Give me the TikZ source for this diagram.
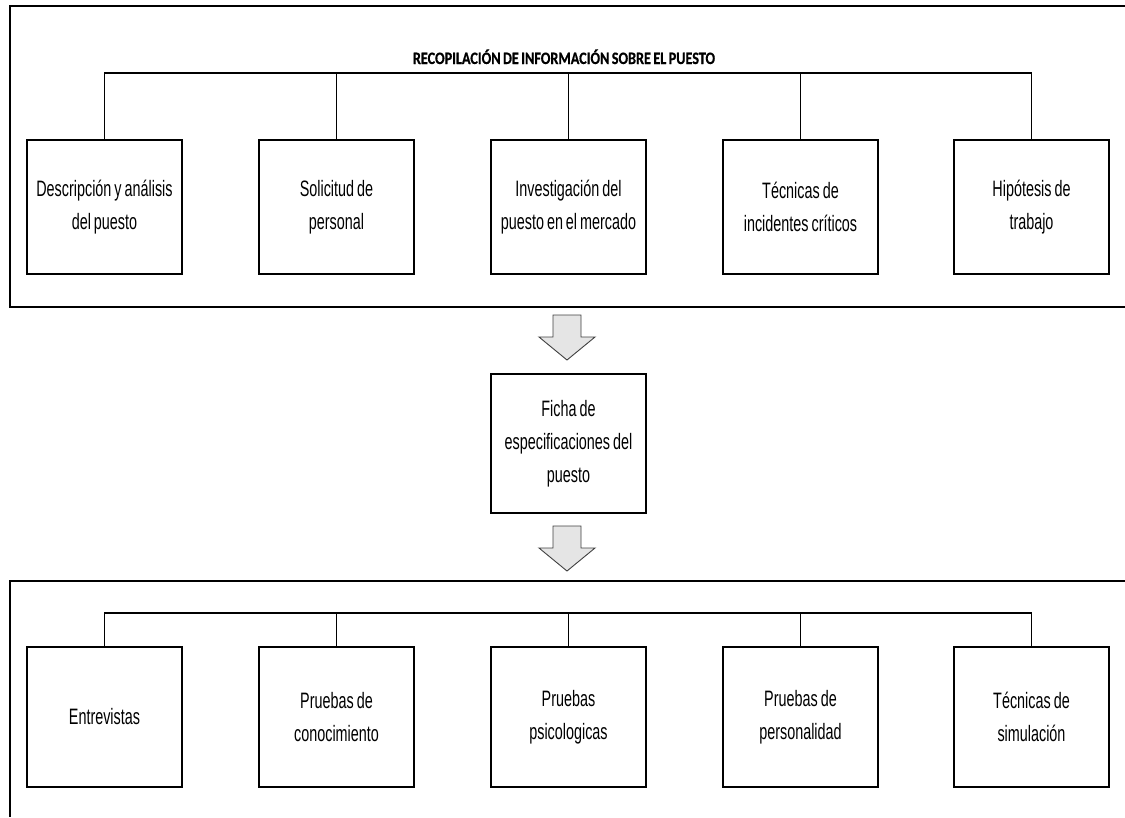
\documentclass[tikz,border=0pt]{standalone}
\usepackage{fontspec}
\newfontfamily\boxfont{Liberation Sans}[FakeStretch=0.645,WordSpace={0.75,0,0}]
\newfontfamily\titlefont{Carlito}[FakeStretch=0.815,FakeBold=0.6,WordSpace={0.75,0,0},UprightFont=*-Bold]
\begin{document}
\begin{tikzpicture}[x=1pt,y=-1pt,
  framel/.style={line width=2pt,draw=black},
  conn/.style={line width=1.3pt,draw=black},
  itembox/.style={draw=black,line width=1.6pt,minimum width=155pt,minimum height=134pt,
    inner sep=0pt,align=center,
    font=\boxfont\fontsize{22.3}{33}\selectfont},
  arrowshape/.style={fill=black!10,draw=black!75,line width=0.9pt,line join=miter},
  ttl/.style={font=\titlefont\fontsize{17.4}{20}\selectfont,inner sep=0pt,anchor=base}]
\useasboundingbox (0,0) rectangle (1125,817);
% frames
\draw[framel] (1125,6) -- (10,6) -- (10,307) -- (1125,307);
\draw[framel] (1125,581) -- (10,581) -- (10,817);
% title
\node[ttl] (title) at (564,64) {RECOPILACIÓN DE INFORMACIÓN SOBRE EL PUESTO};
% top boxes
\node[itembox] (t1) at (104.5,207) {Descripción y análisis\\del puesto};
\node[itembox] (t2) at (336.5,207) {Solicitud de\\personal};
\node[itembox] (t3) at (568.5,207) {Investigación del\\puesto en el mercado};
\node[itembox] (t4) at (800.5,207) {Técnicas de\\incidentes críticos};
\node[itembox] (t5) at (1031.5,207) {Hipótesis de\\trabajo};
\coordinate (bt) at (568.5,73);
\draw[conn] (t1.north) |- (bt) -| (t5.north);
\draw[conn] (bt) -- (t3.north);
\draw[conn] (t2.north) -- (t2.north |- bt);
\draw[conn] (t4.north) -- (t4.north |- bt);
% arrow 1
\draw[arrowshape] (553,315) -- (581,315) -- (581,337) -- (595,337) -- (567,360) -- (539,337) -- (553,337) -- cycle;
% middle box
\node[itembox,minimum height=139pt] (m) at (568.5,443.5) {Ficha de\\especificaciones del\\puesto};
% arrow 2
\draw[arrowshape] (553,526) -- (581,526) -- (581,548) -- (595,548) -- (567,571) -- (539,548) -- (553,548) -- cycle;
% bottom boxes
\node[itembox,minimum height=140pt] (b1) at (104.5,717) {Entrevistas};
\node[itembox,minimum height=140pt] (b2) at (336.5,717) {Pruebas de\\conocimiento};
\node[itembox,minimum height=140pt] (b3) at (568.5,717) {Pruebas\\psicologicas};
\node[itembox,minimum height=140pt] (b4) at (800.5,717) {Pruebas de\\personalidad};
\node[itembox,minimum height=140pt] (b5) at (1031.5,717) {Técnicas de\\simulación};
\coordinate (bb) at (568.5,613);
\draw[conn] (b1.north) |- (bb) -| (b5.north);
\draw[conn] (bb) -- (b3.north);
\draw[conn] (b2.north) -- (b2.north |- bb);
\draw[conn] (b4.north) -- (b4.north |- bb);
\end{tikzpicture}
\end{document}
